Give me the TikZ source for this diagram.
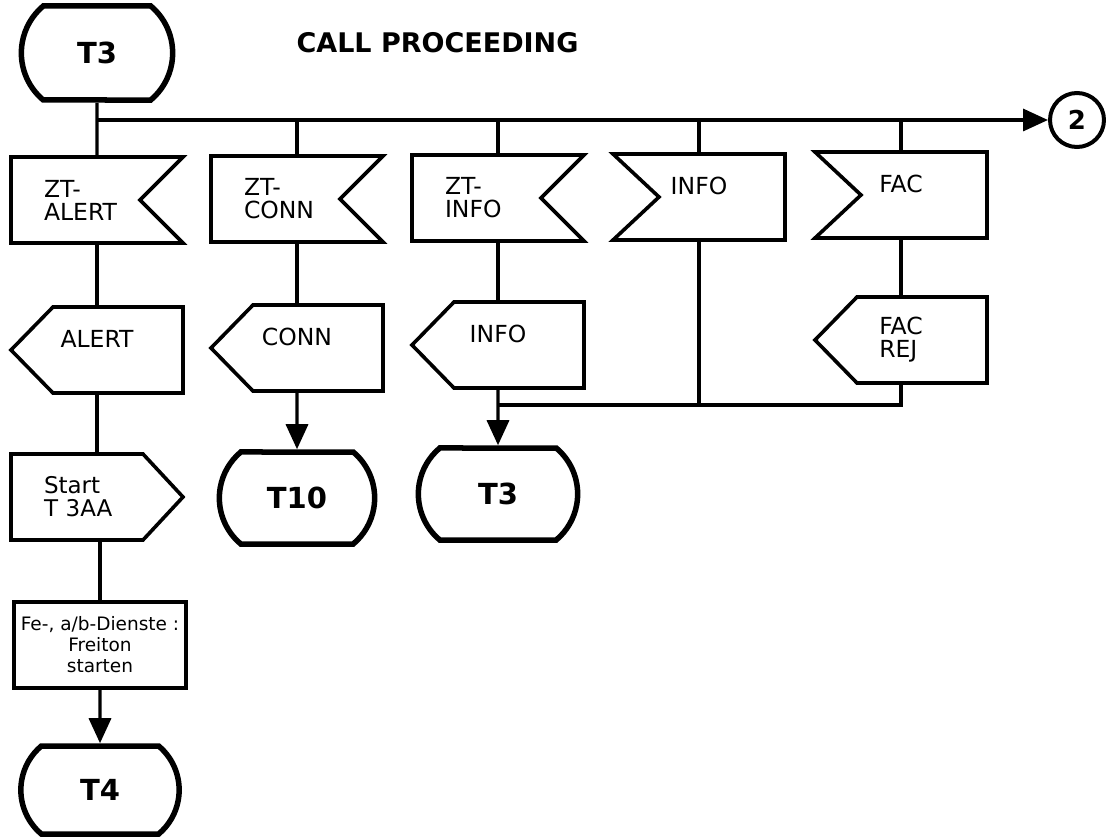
\documentclass[tikz,border=0pt]{standalone}
\usepackage{fontspec}
\setmainfont{DejaVu Sans}
\usetikzlibrary{positioning,arrows.meta,shapes.misc,calc}

% outlines of the SDL signal symbols, drawn round a named node
\newcommand\sigfromE[1]{\draw[sym] (#1.north west) -- (#1.north east)
  -- ($(#1.east)+(-43,0)$) -- (#1.south east) -- (#1.south west) -- cycle;}
\newcommand\sigfromW[1]{\draw[sym] (#1.north west) -- (#1.north east)
  -- (#1.south east) -- (#1.south west) -- ($(#1.west)+(46,0)$) -- cycle;}
\newcommand\sigtoW[1]{\draw[sym] (#1.west) -- ($(#1.north west)+(42,0)$)
  -- (#1.north east) -- (#1.south east) -- ($(#1.south west)+(42,0)$) -- cycle;}
\newcommand\sigtoE[1]{\draw[sym] (#1.north west) -- ($(#1.north east)+(-40,0)$)
  -- (#1.east) -- ($(#1.south east)+(-40,0)$) -- (#1.south west) -- cycle;}

\begin{document}
\begin{tikzpicture}[
      x=1pt, y=-1pt,
      font=\fontsize{23.5}{23}\selectfont,
      box/.style={rectangle, inner sep=0pt, outer sep=0pt,
                  minimum width=172, minimum height=86},
      ztbox/.style={box, text width=106, align=left,
                    font=\fontsize{23.5}{23}\selectfont},
      upper/.style={box, text depth=22pt},
      sym/.style={line width=3.6pt, line join=miter},
      term/.style={rounded rectangle, rounded rectangle arc length=100,
                   draw, line width=5.5pt, minimum width=162, minimum height=92,
                   font=\fontsize{29}{29}\selectfont\bfseries},
      ln/.style={line width=3.4pt},
      fl/.style={ln, -{Triangle[length=25pt,width=22pt]}},
    ]
    \useasboundingbox (0,0) rectangle (1106,837);

    \node[term, minimum width=158, minimum height=94] (tthree) at (97,53) {T3};
    \node[anchor=west, font=\fontsize{27}{27}\selectfont\bfseries]
          (title) at (293,43) {CALL PROCEEDING};
    \node[circle, draw, line width=4pt, minimum size=54, inner sep=0pt,
          font=\fontsize{26}{26}\selectfont\bfseries] (pg2) at (1077,120) {2};
    \coordinate (busL) at (97,120);

    % received signals
    \node[ztbox] (ztalert) at (97,200)  {ZT-\\ALERT};
    \node[ztbox] (ztconn)  at (297,199) {ZT-\\CONN};
    \node[ztbox] (ztinfo)  at (498,198) {ZT-\\INFO};
    \node[upper] (infoin)  at (699,197) {INFO};
    \node[upper] (facin)   at (901,195) {FAC};
    \sigfromE{ztalert} \sigfromE{ztconn} \sigfromE{ztinfo}
    \sigfromW{infoin}  \sigfromW{facin}

    % sent signals
    \node[upper] (alert)   at (97,350)  {ALERT};
    \node[upper] (conn)    at (297,348) {CONN};
    \node[upper] (infoout) at (498,345) {INFO};
    \node[box, align=left] (facrej) at (901,340) {FAC\\REJ};
    \sigtoW{alert} \sigtoW{conn} \sigtoW{infoout} \sigtoW{facrej}
    \coordinate (merge) at (498,405);

    \node[ztbox, font=\fontsize{23}{23}\selectfont] (start) at (97,497)
          {Start\\T 3AA};
    \sigtoE{start}
    \node[term] (tten) at (297,498) {T10};
    \node[term, minimum width=166] (tthreeb) at (498,494) {T3};

    \node[box, draw, line width=3.6pt, align=center,
          font=\fontsize{18.5}{21}\selectfont] (task) at (100,645)
          {Fe-, a/b-Dienste :\\Freiton\\starten};
    \node[term, minimum width=165, minimum height=88] (tfour) at (100,790) {T4};

    \draw[ln] (tthree) -- (ztalert);
    \draw[fl] (busL) -- (pg2);
    \foreach \n in {ztconn,ztinfo,infoin,facin}
      \draw[ln] (\n |- busL) -- (\n);
    \draw[ln] (ztalert) -- (alert);  \draw[ln] (alert) -- (start);
    \draw[ln] (start.south -| task) -- (task);
    \draw[fl] (task) -- (tfour);
    \draw[ln] (ztconn) -- (conn);    \draw[fl] (conn) -- (tten);
    \draw[ln] (ztinfo) -- (infoout); \draw[fl] (infoout) -- (tthreeb);
    \draw[ln] (infoin) -- (infoin |- merge);
    \draw[ln] (facin) -- (facrej);
    \draw[ln] (facrej) -- (facrej |- merge) -- (merge);

  \end{tikzpicture}
\end{document}
